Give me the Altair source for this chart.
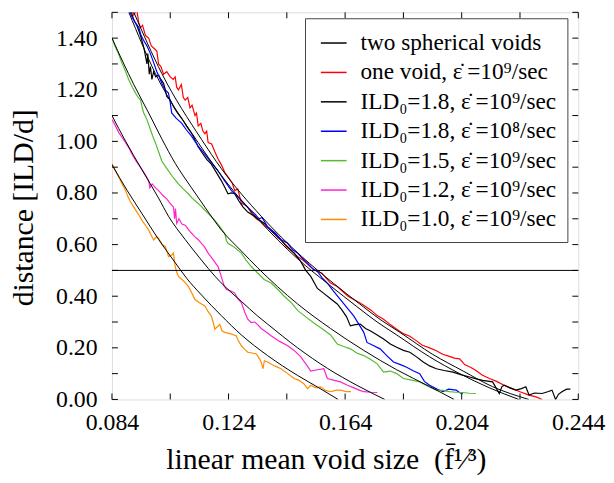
import altair as alt
import pandas as pd

# ---------------- data ----------------
series_names = [
    "two spherical voids",
    "one void, \u03b5\u0307\u2009=10\u2079/sec",
    "ILD\u2080=1.8, \u03b5\u0307\u2009=10\u2079/sec",
    "ILD\u2080=1.8, \u03b5\u0307\u2009=10\u2078/sec",
    "ILD\u2080=1.5, \u03b5\u0307\u2009=10\u2079/sec",
    "ILD\u2080=1.2, \u03b5\u0307\u2009=10\u2079/sec",
    "ILD\u2080=1.0, \u03b5\u0307\u2009=10\u2079/sec",
]
series_colors = ["#000000", "#ff0000", "#000000", "#0000ff", "#55bb33", "#ff22cc", "#ff8c00"]

red_x = [0.0905,0.0915,0.0925,0.0932,0.0938,0.0945,0.0955,0.0966,0.0975,0.0985,0.0994,0.1000,0.1008,0.1017,0.1028,0.1040,0.1050,0.1057,0.1062,0.1068,0.1078,0.1085,0.1091,0.1100,0.1108,0.1115,0.1125,0.1130,0.1136,0.1145,0.1152,0.1159,0.1165,0.1170,0.1182,0.1193,0.1205,0.1215,0.1227,0.1240,0.1252,0.1261,0.1272,0.1284,0.1295,0.1306,0.1320,0.1335,0.1350,0.1363,0.1380,0.1395,0.1410,0.1420,0.1440,0.1465,0.1477,0.1495,0.1515,0.1530,0.1545,0.1560,0.1575,0.1590,0.1610,0.1630,0.1650,0.1670,0.1690,0.1710,0.1730,0.1750,0.1772,0.1795,0.1817,0.1840,0.1862,0.1885,0.1905,0.1930,0.1953,0.1975,0.1995,0.2015,0.2033,0.2050,0.2070,0.2089,0.2110,0.2135,0.2160,0.2185,0.2214,0.2240,0.2271,0.2295,0.2316]
red_y = [1.52,1.49,1.51,1.46,1.44,1.45,1.41,1.40,1.37,1.36,1.35,1.30,1.29,1.26,1.27,1.25,1.24,1.25,1.21,1.20,1.22,1.17,1.16,1.17,1.13,1.14,1.10,1.11,1.06,1.07,1.04,1.03,1.04,0.995,0.99,0.96,0.93,0.91,0.88,0.86,0.84,0.81,0.815,0.76,0.755,0.745,0.72,0.70,0.69,0.675,0.66,0.645,0.625,0.618,0.59,0.567,0.553,0.54,0.52,0.505,0.496,0.49,0.47,0.451,0.44,0.42,0.40,0.387,0.375,0.36,0.345,0.325,0.311,0.29,0.272,0.255,0.245,0.227,0.21,0.20,0.189,0.175,0.168,0.16,0.157,0.135,0.125,0.112,0.095,0.081,0.07,0.055,0.042,0.03,0.017,0.01,0.0]

blk_x = [0.0904,0.0915,0.0925,0.0935,0.0943,0.0950,0.0955,0.0960,0.0963,0.0968,0.0972,0.0977,0.0983,0.0990,0.1000,0.1008,0.1017,0.1023,0.1028,0.1040,0.1051,0.1062,0.1074,0.1085,0.1096,0.1108,0.1119,0.1135,0.1150,0.1165,0.1181,0.1198,0.1215,0.1228,0.1238,0.1250,0.1261,0.1275,0.1290,0.1306,0.1322,0.1340,0.1363,0.1385,0.1409,0.1435,0.1465,0.1488,0.1505,0.1522,0.1545,0.1568,0.1590,0.1613,0.1630,0.1645,0.1658,0.1675,0.1692,0.1710,0.1726,0.1750,0.1772,0.1795,0.1817,0.1840,0.1862,0.1885,0.1908,0.1930,0.1953,0.1980,0.2010,0.2040,0.2067,0.2090,0.2112,0.2146,0.2158,0.2169,0.2178,0.2186,0.2205,0.2226,0.2245,0.2260,0.2271,0.2290,0.2316,0.2335,0.2350,0.2362,0.2372,0.2384,0.2400,0.2413]
blk_y = [1.51,1.47,1.45,1.42,1.39,1.36,1.33,1.30,1.34,1.26,1.29,1.24,1.27,1.25,1.257,1.24,1.225,1.20,1.174,1.16,1.135,1.115,1.097,1.08,1.059,1.04,1.02,0.98,0.955,0.93,0.912,0.88,0.848,0.82,0.797,0.80,0.797,0.77,0.745,0.726,0.715,0.70,0.682,0.655,0.63,0.60,0.567,0.534,0.50,0.477,0.43,0.41,0.39,0.37,0.345,0.32,0.285,0.29,0.292,0.275,0.266,0.25,0.234,0.215,0.202,0.19,0.183,0.165,0.145,0.13,0.119,0.112,0.106,0.095,0.087,0.08,0.074,0.068,0.045,0.023,0.05,0.055,0.045,0.036,0.042,0.049,0.017,0.025,0.023,0.03,0.036,0.0,0.02,0.03,0.04,0.04]

blu_x = [0.0898,0.0910,0.0920,0.0932,0.0940,0.0949,0.0960,0.0972,0.0983,0.0994,0.1002,0.1011,0.1022,0.1034,0.1040,0.1045,0.1060,0.1079,0.1095,0.1113,0.1125,0.1136,0.1148,0.1159,0.1180,0.1204,0.1225,0.1250,0.1268,0.1284,0.1305,0.1329,0.1345,0.1355,0.1374,0.1400,0.1420,0.1443,0.1460,0.1477,0.1495,0.1511,0.1530,0.1545,0.1562,0.1579,0.1600,0.1624,0.1647,0.1670,0.1688,0.1704,0.1715,0.1735,0.1760,0.1783,0.1806,0.1830,0.1851,0.1875,0.1896,0.1912,0.1930,0.1955,0.1976,0.1995,0.2021,0.2035,0.2044]
blu_y = [1.51,1.48,1.46,1.442,1.41,1.391,1.37,1.34,1.305,1.27,1.25,1.225,1.20,1.187,1.15,1.11,1.09,1.071,1.045,1.02,1.0,0.982,0.965,0.95,0.92,0.886,0.85,0.809,0.79,0.771,0.745,0.72,0.70,0.705,0.669,0.645,0.62,0.605,0.58,0.567,0.545,0.528,0.505,0.496,0.47,0.451,0.42,0.387,0.355,0.323,0.29,0.26,0.221,0.21,0.196,0.17,0.145,0.135,0.125,0.11,0.10,0.07,0.055,0.04,0.03,0.04,0.036,0.025,0.023]

grn_x = [0.0841,0.0850,0.0862,0.0875,0.0887,0.0898,0.0910,0.0921,0.0930,0.0938,0.0944,0.0949,0.0958,0.0972,0.0980,0.0989,0.1000,0.1011,0.1022,0.1034,0.1050,0.1068,0.1085,0.1102,0.1115,0.1130,0.1145,0.1159,0.1175,0.1193,0.1210,0.1227,0.1233,0.1238,0.1260,0.1284,0.1300,0.1318,0.1340,0.1362,0.1386,0.1410,0.1431,0.1455,0.1477,0.1505,0.1534,0.1560,0.1590,0.1613,0.1635,0.1658,0.1680,0.1704,0.1728,0.1750,0.1772,0.1795,0.1817,0.1840,0.1868,0.1896,0.1925,0.1953,0.1975,0.1998,0.2020,0.2044,0.2065,0.2089]
grn_y = [1.40,1.37,1.34,1.302,1.27,1.238,1.21,1.187,1.17,1.161,1.13,1.11,1.09,1.046,1.02,0.995,0.96,0.924,0.905,0.886,0.86,0.835,0.815,0.797,0.78,0.765,0.75,0.733,0.715,0.694,0.67,0.643,0.615,0.605,0.59,0.567,0.54,0.515,0.49,0.465,0.451,0.425,0.40,0.375,0.345,0.32,0.295,0.275,0.25,0.215,0.205,0.196,0.18,0.17,0.155,0.138,0.106,0.11,0.10,0.081,0.075,0.068,0.05,0.036,0.035,0.03,0.028,0.027,0.024,0.023]

pnk_x = [0.0841,0.0852,0.0864,0.0875,0.0887,0.0898,0.0909,0.0922,0.0938,0.0952,0.0966,0.0970,0.0978,0.0990,0.1000,0.1015,0.1028,0.1040,0.1051,0.1055,0.1058,0.1062,0.1070,0.1080,0.1091,0.1108,0.1125,0.1135,0.1147,0.1158,0.1170,0.1188,0.1204,0.1215,0.1225,0.1233,0.1248,0.1261,0.1272,0.1284,0.1295,0.1306,0.1318,0.1330,0.1340,0.1352,0.1363,0.1386,0.1415,0.1443,0.1465,0.1488,0.1510,0.1522,0.1545,0.1567,0.1579,0.1600,0.1624,0.1648,0.1670,0.1690,0.1704,0.1728,0.1750]
pnk_y = [1.084,1.06,1.033,1.015,0.995,0.975,0.95,0.925,0.899,0.875,0.848,0.82,0.835,0.82,0.809,0.79,0.777,0.76,0.745,0.70,0.74,0.682,0.70,0.68,0.675,0.65,0.63,0.62,0.605,0.59,0.567,0.54,0.515,0.477,0.44,0.426,0.42,0.413,0.39,0.375,0.34,0.311,0.298,0.30,0.29,0.275,0.266,0.247,0.225,0.208,0.19,0.165,0.13,0.11,0.115,0.119,0.081,0.075,0.068,0.055,0.045,0.035,0.03,0.028,0.027]

org_x = [0.0840,0.0852,0.0864,0.0875,0.0887,0.0895,0.0904,0.0915,0.0926,0.0935,0.0943,0.0955,0.0966,0.0975,0.0983,0.0992,0.1000,0.1012,0.1023,0.1030,0.1034,0.1045,0.1051,0.1057,0.1063,0.1068,0.1085,0.1102,0.1115,0.1125,0.1140,0.1159,0.1170,0.1181,0.1187,0.1193,0.1200,0.1210,0.1218,0.1227,0.1245,0.1266,0.1275,0.1284,0.1295,0.1306,0.1320,0.1335,0.1345,0.1352,0.1358,0.1363,0.1374,0.1398,0.1420,0.1443,0.1465,0.1482,0.1499,0.1511,0.1522,0.1540,0.1556,0.1573,0.1590,0.1610,0.1624,0.1645,0.1660]
org_y = [0.913,0.885,0.86,0.835,0.809,0.785,0.765,0.745,0.726,0.71,0.694,0.675,0.656,0.635,0.618,0.63,0.625,0.60,0.592,0.57,0.553,0.56,0.567,0.515,0.49,0.477,0.46,0.438,0.41,0.387,0.375,0.362,0.34,0.323,0.30,0.272,0.28,0.29,0.265,0.26,0.255,0.247,0.225,0.208,0.195,0.183,0.18,0.176,0.16,0.145,0.119,0.15,0.145,0.13,0.119,0.10,0.081,0.074,0.06,0.042,0.055,0.045,0.049,0.035,0.03,0.036,0.036,0.03,0.03]

# "two spherical voids" model curves
th1_x = [0.0840,0.0892,0.0943,0.1000,0.1057,0.1096,0.1147,0.1215,0.1284,0.1374,0.1477,0.1550,0.1616]
th1_y = [0.91,0.81,0.72,0.62,0.53,0.47,0.405,0.325,0.25,0.17,0.093,0.045,0.0]
th2_x = [0.0840,0.0887,0.0943,0.1000,0.1034,0.1091,0.1147,0.1193,0.1227,0.1284,0.1340,0.1374,0.1477,0.1580,0.1680,0.1776]
th2_y = [1.10,1.0,0.89,0.78,0.71,0.62,0.54,0.478,0.438,0.38,0.323,0.292,0.20,0.12,0.055,0.0]
th3_x = [0.0840,0.0915,0.0966,0.1011,0.1057,0.1113,0.1159,0.1216,0.1284,0.1340,0.1477,0.1590,0.1704,0.1817,0.1930,0.2014]
th3_y = [1.40,1.22,1.11,1.01,0.915,0.82,0.745,0.656,0.575,0.51,0.37,0.275,0.19,0.115,0.05,0.0]
th4_x = [0.0898,0.0989,0.1136,0.1204,0.1340,0.1477,0.1590,0.1680,0.1750,0.1817,0.1930,0.2033,0.2135,0.2236]
th4_y = [1.50,1.263,0.995,0.885,0.70,0.545,0.44,0.36,0.30,0.25,0.165,0.10,0.045,0.0]
th5_x = [0.0915,0.1011,0.1147,0.1215,0.1352,0.1490,0.1600,0.1690,0.1760,0.1828,0.1940,0.2045,0.2145,0.2270]
th5_y = [1.50,1.263,1.008,0.895,0.71,0.555,0.45,0.37,0.31,0.26,0.175,0.11,0.05,0.0]

x_label_values = [0.084, 0.124, 0.164, 0.204, 0.244]
x_tick_values = [0.084, 0.104, 0.124, 0.144, 0.164, 0.184, 0.204, 0.224, 0.244]
y_label_values = [0.0, 0.2, 0.4, 0.6, 0.8, 1.0, 1.2, 1.4]
y_tick_values = [0.0, 0.1, 0.2, 0.3, 0.4, 0.5, 0.6, 0.7, 0.8, 0.9, 1.0, 1.1, 1.2, 1.3, 1.4, 1.5]
threshold = [0.5]

# ---------------- tables ----------------
rows = []
for name, xs, ys in [(series_names[1], red_x, red_y), (series_names[2], blk_x, blk_y),
                     (series_names[3], blu_x, blu_y), (series_names[4], grn_x, grn_y),
                     (series_names[5], pnk_x, pnk_y), (series_names[6], org_x, org_y)]:
    for a, b in zip(xs, ys):
        rows.append({"x": a, "y": b, "series": name, "curve": name})
df_data = pd.DataFrame(rows)

trows = []
for cid, xs, ys in [("t1", th1_x, th1_y), ("t2", th2_x, th2_y), ("t3", th3_x, th3_y),
                    ("t4", th4_x, th4_y), ("t5", th5_x, th5_y)]:
    for a, b in zip(xs, ys):
        trows.append({"x": a, "y": b, "series": series_names[0], "curve": cid})
df_theory = pd.DataFrame(trows)

W, H = 471, 391
FONT = "Liberation Serif"

x_enc = alt.X("x:Q", scale=alt.Scale(domain=[0.084, 0.244], nice=False, zero=False),
              axis=alt.Axis(values=x_label_values, format=".3f", ticks=False, domain=False, grid=False,
                            labelPadding=11, labelFlush=False, labelOverlap=False,
                            labelFontSize=24, labelFont=FONT, labelColor="black",
                            title="linear mean void size \u00a0(f\u0304\u00b9\u2044\u00b3)",
                            titleFontSize=30, titleFont=FONT, titleFontWeight="normal",
                            titleColor="black", titleX=216, titleY=70, titleBaseline="alphabetic"))
y_enc = alt.Y("y:Q", scale=alt.Scale(domain=[0, 1.5], nice=False, zero=False),
              axis=alt.Axis(values=y_label_values, format=".2f", ticks=False, domain=False, grid=False,
                            labelPadding=15, labelFontSize=24, labelFont=FONT, labelColor="black",
                            title="distance [ILD/d]", titleFontSize=30, titleFont=FONT,
                            titleFontWeight="normal", titleColor="black", titleAngle=270,
                            titleX=-80, titleY=197, titleBaseline="alphabetic"))

color_enc = alt.Color("series:N", scale=alt.Scale(domain=series_names, range=series_colors),
                      legend=alt.Legend(title=None, orient="none", legendX=195, legendY=6,
                                        symbolType="stroke", symbolSize=676, symbolStrokeWidth=1.5,
                                        symbolOffset=4,
                                        labelFont=FONT, labelFontSize=23.5, labelColor="black",
                                        labelLimit=400, labelOffset=13, rowPadding=3.7,
                                        padding=11, fillColor="white", strokeColor="#444444"))

data_layer = alt.Chart(df_data).mark_line(strokeWidth=1.2, clip=True).encode(
    x=x_enc, y=y_enc, color=color_enc, detail="curve:N")
theory_layer = alt.Chart(df_theory).mark_line(strokeWidth=1, interpolate="monotone", clip=True).encode(
    x=x_enc, y=y_enc, color=color_enc, detail="curve:N")

hline = alt.Chart(pd.DataFrame({"y": threshold})).mark_rule(color="black", strokeWidth=1).encode(y=y_enc)

xt = pd.DataFrame({"x": x_tick_values})
yt = pd.DataFrame({"y": y_tick_values})
TL = 6
tick_bottom = alt.Chart(xt).mark_rule(color="black").encode(x=x_enc, y=alt.value(H - TL), y2=alt.value(H))
tick_top = alt.Chart(xt).mark_rule(color="black").encode(x=x_enc, y=alt.value(0), y2=alt.value(TL))
tick_left = alt.Chart(yt).mark_rule(color="black").encode(y=y_enc, x=alt.value(0), x2=alt.value(TL))
tick_right = alt.Chart(yt).mark_rule(color="black").encode(y=y_enc, x=alt.value(W - TL), x2=alt.value(W))

chart = alt.layer(data_layer, theory_layer, hline, tick_bottom, tick_top, tick_left, tick_right).properties(
    width=W, height=H,
    autosize=alt.AutoSizeParams(type="none"),
    padding={"left": 105, "top": 2, "right": 28, "bottom": 80},
).configure_view(stroke="black", strokeWidth=1.2).configure(background="white")

chart.save("out.html", embed_options={"renderer": "svg", "actions": False})
